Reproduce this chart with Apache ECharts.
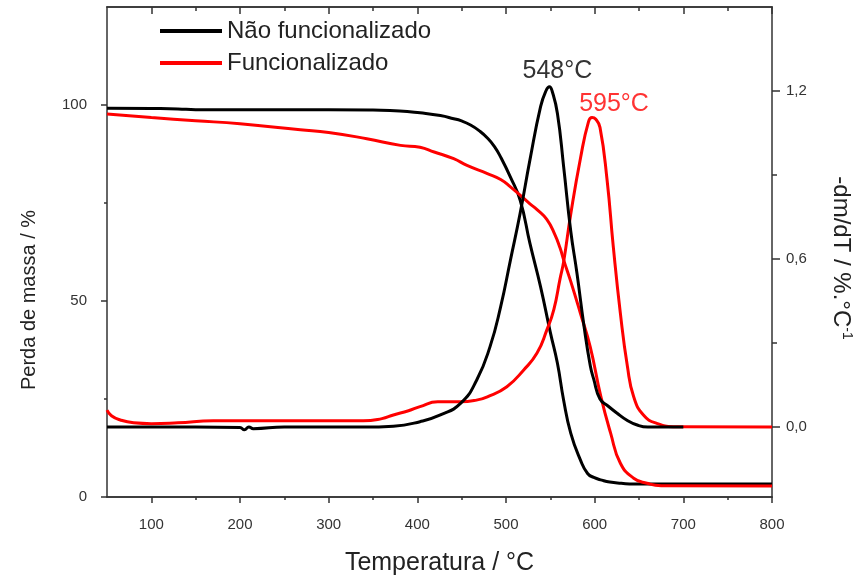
<!DOCTYPE html>
<html>
<head>
<meta charset="utf-8">
<script src="https://cdn.jsdelivr.net/npm/echarts@6/dist/echarts.min.js"></script>
<style>
  html, body { margin: 0; padding: 0; background: #fff; }
  #main { width: 860px; height: 575px; }
</style>
</head>
<body>
<div id="main"></div>
<script>
// TG - perda de massa (%)
const tempTgNao = [50, 100, 130, 150, 200, 250, 300, 350, 380, 403, 426, 441, 449, 460, 470, 479, 487, 494, 505, 516, 527, 539, 550, 558, 565, 573, 584, 592, 599, 608, 617, 630, 644, 700, 800]
const massaNao = [99.2, 99.1, 99.0, 98.8, 98.8, 98.8, 98.8, 98.7, 98.5, 98.0, 97.3, 96.5, 96.0, 94.9, 93.4, 91.6, 89.4, 86.7, 81.6, 75.7, 64.7, 53.6, 42.0, 34.1, 24.7, 16.3, 9.4, 6.0, 5.0, 4.3, 3.8, 3.5, 3.3, 3.3, 3.3]

const tempTgFun = [50, 100, 150, 200, 268, 300, 343, 381, 403, 419, 441, 456, 479, 494, 505, 527, 535, 546, 555, 561, 565, 573, 584, 595, 607, 618, 629, 644, 659, 675, 800]
const massaFun = [97.7, 96.8, 96.0, 95.2, 93.7, 93.0, 91.4, 89.7, 89.2, 88.0, 86.3, 84.6, 82.5, 81.0, 79.1, 74.8, 73.3, 70.8, 67.0, 63.5, 60.5, 55.0, 46.8, 38.3, 25.6, 16.3, 8.6, 4.8, 3.5, 2.9, 2.8]

// DTG - -dm/dT (%.°C-1)
const tempDtgNao = [50, 150, 200, 205, 210, 215, 250, 300, 340, 373, 403, 426, 449, 467, 482, 494, 505, 516, 527, 539, 545, 549, 552, 558, 565, 573, 580, 588, 595, 599, 606, 615, 625, 636, 648, 660, 700]
const dtgNao = [0.0, 0.0, -0.002, -0.01, 0.0, -0.006, 0.0, 0.0, 0.0, 0.003, 0.019, 0.043, 0.085, 0.168, 0.287, 0.43, 0.596, 0.764, 0.954, 1.144, 1.2, 1.215, 1.2, 1.12, 0.93, 0.70, 0.55, 0.36, 0.22, 0.17, 0.10, 0.075, 0.05, 0.025, 0.007, 0.0, 0.0]

const tempDtgFun = [50, 55, 65, 80, 100, 130, 170, 250, 339, 360, 373, 390, 403, 423, 449, 465, 479, 501, 520, 535, 546, 554, 561, 565, 573, 584, 593, 597, 601, 606, 614, 621, 629, 637, 644, 655, 670, 693, 800]
const dtgFun = [0.06, 0.04, 0.025, 0.015, 0.012, 0.015, 0.022, 0.022, 0.022, 0.03, 0.043, 0.058, 0.073, 0.09, 0.09, 0.095, 0.108, 0.144, 0.204, 0.264, 0.346, 0.42, 0.53, 0.59, 0.76, 0.96, 1.09, 1.105, 1.1, 1.07, 0.882, 0.644, 0.406, 0.215, 0.108, 0.043, 0.013, 0.001, 0.0]

const xMajor = [100, 200, 300, 400, 500, 600, 700, 800]
const xMinor = [150, 250, 350, 450, 550, 650, 750]
const yLeftMajor = [0, 50, 100]
const yLeftMinor = [25, 75]
const yRightMajor = [0, 0.6, 1.2]
const yRightMinor = [0.3, 0.9]

const pares = (xs, ys) => xs.map((x, i) => [x, ys[i]])

const fonte = 'Liberation Sans, Arial, sans-serif'
const corEixo = '#333'
const preto = '#000'
const vermelho = '#ff0000'

const eixoX = (pos, ticks, len, inside, labels) => ({
  type: 'value', position: pos, min: 50, max: 800,
  axisLine: { show: true, onZero: false, lineStyle: { color: corEixo, width: 1.5 } },
  axisTick: { show: true, inside: inside, length: len, customValues: ticks, lineStyle: { color: corEixo, width: 1.5 } },
  axisLabel: labels
    ? { show: true, customValues: xMajor, margin: 20, fontSize: 15, color: '#333', fontFamily: fonte }
    : { show: false },
  splitLine: { show: false }
})

const linha = (nome, xs, ys, eixoY, cor) => ({
  name: nome, type: 'line', xAxisIndex: 0, yAxisIndex: eixoY,
  data: pares(xs, ys), smooth: 0.5, showSymbol: false,
  lineStyle: { color: cor, width: 3 }, itemStyle: { color: cor }
})

const chart = echarts.init(document.getElementById('main'))
const option = {
  animation: false,
  backgroundColor: '#fff',
  grid: { left: 107, right: 88, top: 7, bottom: 78, containLabel: false, outerBoundsMode: 'none' },
  legend: {
    data: ['Não funcionalizado', 'Funcionalizado'],
    orient: 'vertical',
    left: 155, top: 14,
    icon: 'rect', itemWidth: 62, itemHeight: 4, itemGap: 8,
    textStyle: { fontSize: 24, color: '#222', fontFamily: fonte, lineHeight: 24 }
  },
  xAxis: [
    Object.assign(eixoX('bottom', xMajor, 6, false, true), {
      name: 'Temperatura / °C', nameLocation: 'middle', nameGap: 54,
      nameTextStyle: { fontSize: 25, color: '#222', fontFamily: fonte }
    }),
    eixoX('bottom', xMinor, 3, false, false),
    eixoX('top', xMajor, 7, true, false),
    eixoX('top', xMinor, 4, true, false)
  ],
  yAxis: [
    {
      type: 'value', position: 'left', min: 0, max: 125,
      name: 'Perda de massa / %', nameLocation: 'middle', nameGap: 68,
      nameTextStyle: { fontSize: 20, color: '#222', fontFamily: fonte, padding: [0, 96, 0, 0] },
      axisLine: { show: true, lineStyle: { color: corEixo, width: 1.5 } },
      axisTick: { show: true, length: 6, customValues: yLeftMajor, lineStyle: { color: corEixo, width: 1.5 } },
      axisLabel: { customValues: yLeftMajor, margin: 20, fontSize: 15, color: '#333', fontFamily: fonte },
      splitLine: { show: false }
    },
    {
      type: 'value', position: 'left', min: 0, max: 125,
      axisLine: { show: false },
      axisTick: { show: true, length: 3, customValues: yLeftMinor, lineStyle: { color: corEixo, width: 1.5 } },
      axisLabel: { show: false },
      splitLine: { show: false }
    },
    {
      type: 'value', position: 'right', min: -0.25, max: 1.5,
      name: '{a|-dm/dT / %.°C}{s|-1}', nameLocation: 'middle', nameGap: 56, nameRotate: -90,
      nameTextStyle: {
        fontFamily: fonte, color: '#222', padding: [0, 0, 0, 12],
        rich: {
          a: { fontSize: 24, color: '#222', fontFamily: fonte },
          s: { fontSize: 14, color: '#222', fontFamily: fonte, verticalAlign: 'top', padding: [0, 0, 12, 0] }
        }
      },
      axisLine: { show: true, onZero: false, lineStyle: { color: corEixo, width: 1.5 } },
      axisTick: { show: true, length: 8, customValues: yRightMajor, lineStyle: { color: corEixo, width: 1.5 } },
      axisLabel: {
        customValues: yRightMajor, margin: 14, fontSize: 15, color: '#333', fontFamily: fonte,
        formatter: v => v.toFixed(1).replace('.', ',')
      },
      splitLine: { show: false }
    },
    {
      type: 'value', position: 'right', min: -0.25, max: 1.5,
      axisLine: { show: false },
      axisTick: { show: true, length: 5, customValues: yRightMinor, lineStyle: { color: corEixo, width: 1.5 } },
      axisLabel: { show: false },
      splitLine: { show: false }
    }
  ],
  series: [
    linha('Não funcionalizado', tempTgNao, massaNao, 0, preto),
    linha('Funcionalizado', tempTgFun, massaFun, 0, vermelho),
    Object.assign(linha('Funcionalizado', tempDtgFun, dtgFun, 2, vermelho), {
      markPoint: {
        symbol: 'circle', symbolSize: 1, itemStyle: { color: 'rgba(0,0,0,0)' },
        label: { show: true, position: 'top', distance: 2, offset: [22, 2], formatter: '595°C', fontSize: 25, color: '#ff3333', fontFamily: fonte },
        data: [{ coord: [597, 1.105] }]
      }
    }),
    Object.assign(linha('Não funcionalizado', tempDtgNao, dtgNao, 2, preto), {
      markPoint: {
        symbol: 'circle', symbolSize: 1, itemStyle: { color: 'rgba(0,0,0,0)' },
        label: { show: true, position: 'top', distance: 3, offset: [8, 0], formatter: '548°C', fontSize: 25, color: '#333', fontFamily: fonte },
        data: [{ coord: [549, 1.215] }]
      }
    })
  ]
}
option && chart.setOption(option)
</script>
</body>
</html>
